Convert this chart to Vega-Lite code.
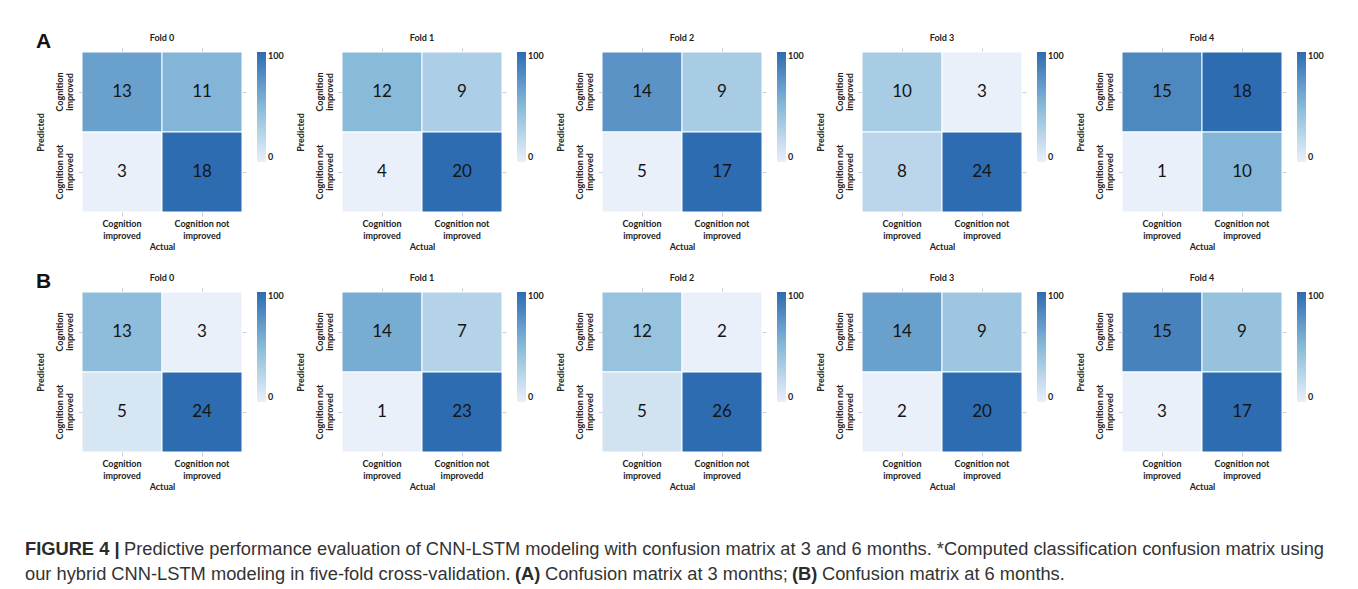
{
  "$schema": "https://vega.github.io/schema/vega-lite/v6.json",
  "background": "white",
  "padding": {"left": 25, "top": 30, "right": 5, "bottom": 5},
  "data": {
    "values": [
      {"set": "A", "fold": 0, "pred": "Cognition improved", "actual": "Cognition improved", "n": 13},
      {"set": "A", "fold": 0, "pred": "Cognition improved", "actual": "Cognition not improved", "n": 11},
      {"set": "A", "fold": 0, "pred": "Cognition not improved", "actual": "Cognition improved", "n": 3},
      {"set": "A", "fold": 0, "pred": "Cognition not improved", "actual": "Cognition not improved", "n": 18},
      {"set": "A", "fold": 1, "pred": "Cognition improved", "actual": "Cognition improved", "n": 12},
      {"set": "A", "fold": 1, "pred": "Cognition improved", "actual": "Cognition not improved", "n": 9},
      {"set": "A", "fold": 1, "pred": "Cognition not improved", "actual": "Cognition improved", "n": 4},
      {"set": "A", "fold": 1, "pred": "Cognition not improved", "actual": "Cognition not improved", "n": 20},
      {"set": "A", "fold": 2, "pred": "Cognition improved", "actual": "Cognition improved", "n": 14},
      {"set": "A", "fold": 2, "pred": "Cognition improved", "actual": "Cognition not improved", "n": 9},
      {"set": "A", "fold": 2, "pred": "Cognition not improved", "actual": "Cognition improved", "n": 5},
      {"set": "A", "fold": 2, "pred": "Cognition not improved", "actual": "Cognition not improved", "n": 17},
      {"set": "A", "fold": 3, "pred": "Cognition improved", "actual": "Cognition improved", "n": 10},
      {"set": "A", "fold": 3, "pred": "Cognition improved", "actual": "Cognition not improved", "n": 3},
      {"set": "A", "fold": 3, "pred": "Cognition not improved", "actual": "Cognition improved", "n": 8},
      {"set": "A", "fold": 3, "pred": "Cognition not improved", "actual": "Cognition not improved", "n": 24},
      {"set": "A", "fold": 4, "pred": "Cognition improved", "actual": "Cognition improved", "n": 15},
      {"set": "A", "fold": 4, "pred": "Cognition improved", "actual": "Cognition not improved", "n": 18},
      {"set": "A", "fold": 4, "pred": "Cognition not improved", "actual": "Cognition improved", "n": 1},
      {"set": "A", "fold": 4, "pred": "Cognition not improved", "actual": "Cognition not improved", "n": 10},
      {"set": "B", "fold": 0, "pred": "Cognition improved", "actual": "Cognition improved", "n": 13},
      {"set": "B", "fold": 0, "pred": "Cognition improved", "actual": "Cognition not improved", "n": 3},
      {"set": "B", "fold": 0, "pred": "Cognition not improved", "actual": "Cognition improved", "n": 5},
      {"set": "B", "fold": 0, "pred": "Cognition not improved", "actual": "Cognition not improved", "n": 24},
      {"set": "B", "fold": 1, "pred": "Cognition improved", "actual": "Cognition improved", "n": 14},
      {"set": "B", "fold": 1, "pred": "Cognition improved", "actual": "Cognition not improved", "n": 7},
      {"set": "B", "fold": 1, "pred": "Cognition not improved", "actual": "Cognition improved", "n": 1},
      {"set": "B", "fold": 1, "pred": "Cognition not improved", "actual": "Cognition not improved", "n": 23},
      {"set": "B", "fold": 2, "pred": "Cognition improved", "actual": "Cognition improved", "n": 12},
      {"set": "B", "fold": 2, "pred": "Cognition improved", "actual": "Cognition not improved", "n": 2},
      {"set": "B", "fold": 2, "pred": "Cognition not improved", "actual": "Cognition improved", "n": 5},
      {"set": "B", "fold": 2, "pred": "Cognition not improved", "actual": "Cognition not improved", "n": 26},
      {"set": "B", "fold": 3, "pred": "Cognition improved", "actual": "Cognition improved", "n": 14},
      {"set": "B", "fold": 3, "pred": "Cognition improved", "actual": "Cognition not improved", "n": 9},
      {"set": "B", "fold": 3, "pred": "Cognition not improved", "actual": "Cognition improved", "n": 2},
      {"set": "B", "fold": 3, "pred": "Cognition not improved", "actual": "Cognition not improved", "n": 20},
      {"set": "B", "fold": 4, "pred": "Cognition improved", "actual": "Cognition improved", "n": 15},
      {"set": "B", "fold": 4, "pred": "Cognition improved", "actual": "Cognition not improved", "n": 9},
      {"set": "B", "fold": 4, "pred": "Cognition not improved", "actual": "Cognition improved", "n": 3},
      {"set": "B", "fold": 4, "pred": "Cognition not improved", "actual": "Cognition not improved", "n": 17}
    ]
  },
  "vconcat": [
    {
      "vconcat": [
        {
          "title": {"text": "A", "anchor": "start", "font": "Liberation Sans", "fontSize": 21, "fontWeight": "bold", "color": "#111111", "offset": -18},
          "spacing": 12,
          "hconcat": [
            {
              "title": "Fold 0", "width": 160, "height": 160,
              "transform": [{"filter": "datum.set == 'A' && datum.fold == 0"}],
              "layer": [
                {"mark": {"type": "rect", "stroke": "white", "strokeWidth": 1},
                 "encoding": {
                   "x": {"field": "actual", "type": "nominal", "title": "Actual", "axis": {"labelExpr": "datum.label == 'Cognition improved' ? ['Cognition', 'improved'] : ['Cognition not', 'improved']"}},
                   "y": {"field": "pred", "type": "nominal", "title": "Predicted", "axis": {"labelExpr": "datum.label == 'Cognition improved' ? ['Cognition', 'improved'] : ['Cognition not', 'improved']"}},
                   "color": {"field": "n", "type": "quantitative", "scale": {"domain": [3, 10.5, 18], "range": ["#e9f0f9", "#88bada", "#2d6cb1"], "interpolate": "rgb"}, "legend": {"title": null, "values": [3, 18], "labelExpr": "datum.value < 10 ? '0' : '100'"}}
                 }},
                {"mark": {"type": "text", "fontSize": 17, "color": "#151515"},
                 "encoding": {
                   "x": {"field": "actual", "type": "nominal", "axis": {"orient": "top", "labels": false, "title": null}},
                   "y": {"field": "pred", "type": "nominal", "axis": {"orient": "right", "labels": false, "title": null}},
                   "text": {"field": "n", "type": "quantitative"}
                 }}
              ],
              "resolve": {"axis": {"x": "independent", "y": "independent"}}
            },
            {
              "title": "Fold 1", "width": 160, "height": 160,
              "transform": [{"filter": "datum.set == 'A' && datum.fold == 1"}],
              "layer": [
                {"mark": {"type": "rect", "stroke": "white", "strokeWidth": 1},
                 "encoding": {
                   "x": {"field": "actual", "type": "nominal", "title": "Actual", "axis": {"labelExpr": "datum.label == 'Cognition improved' ? ['Cognition', 'improved'] : ['Cognition not', 'improved']"}},
                   "y": {"field": "pred", "type": "nominal", "title": "Predicted", "axis": {"labelExpr": "datum.label == 'Cognition improved' ? ['Cognition', 'improved'] : ['Cognition not', 'improved']"}},
                   "color": {"field": "n", "type": "quantitative", "scale": {"domain": [4, 12, 20], "range": ["#e9f0f9", "#88bada", "#2d6cb1"], "interpolate": "rgb"}, "legend": {"title": null, "values": [4, 20], "labelExpr": "datum.value < 10 ? '0' : '100'"}}
                 }},
                {"mark": {"type": "text", "fontSize": 17, "color": "#151515"},
                 "encoding": {
                   "x": {"field": "actual", "type": "nominal", "axis": {"orient": "top", "labels": false, "title": null}},
                   "y": {"field": "pred", "type": "nominal", "axis": {"orient": "right", "labels": false, "title": null}},
                   "text": {"field": "n", "type": "quantitative"}
                 }}
              ],
              "resolve": {"axis": {"x": "independent", "y": "independent"}}
            },
            {
              "title": "Fold 2", "width": 160, "height": 160,
              "transform": [{"filter": "datum.set == 'A' && datum.fold == 2"}],
              "layer": [
                {"mark": {"type": "rect", "stroke": "white", "strokeWidth": 1},
                 "encoding": {
                   "x": {"field": "actual", "type": "nominal", "title": "Actual", "axis": {"labelExpr": "datum.label == 'Cognition improved' ? ['Cognition', 'improved'] : ['Cognition not', 'improved']"}},
                   "y": {"field": "pred", "type": "nominal", "title": "Predicted", "axis": {"labelExpr": "datum.label == 'Cognition improved' ? ['Cognition', 'improved'] : ['Cognition not', 'improved']"}},
                   "color": {"field": "n", "type": "quantitative", "scale": {"domain": [5, 11, 17], "range": ["#e9f0f9", "#88bada", "#2d6cb1"], "interpolate": "rgb"}, "legend": {"title": null, "values": [5, 17], "labelExpr": "datum.value < 10 ? '0' : '100'"}}
                 }},
                {"mark": {"type": "text", "fontSize": 17, "color": "#151515"},
                 "encoding": {
                   "x": {"field": "actual", "type": "nominal", "axis": {"orient": "top", "labels": false, "title": null}},
                   "y": {"field": "pred", "type": "nominal", "axis": {"orient": "right", "labels": false, "title": null}},
                   "text": {"field": "n", "type": "quantitative"}
                 }}
              ],
              "resolve": {"axis": {"x": "independent", "y": "independent"}}
            },
            {
              "title": "Fold 3", "width": 160, "height": 160,
              "transform": [{"filter": "datum.set == 'A' && datum.fold == 3"}],
              "layer": [
                {"mark": {"type": "rect", "stroke": "white", "strokeWidth": 1},
                 "encoding": {
                   "x": {"field": "actual", "type": "nominal", "title": "Actual", "axis": {"labelExpr": "datum.label == 'Cognition improved' ? ['Cognition', 'improved'] : ['Cognition not', 'improved']"}},
                   "y": {"field": "pred", "type": "nominal", "title": "Predicted", "axis": {"labelExpr": "datum.label == 'Cognition improved' ? ['Cognition', 'improved'] : ['Cognition not', 'improved']"}},
                   "color": {"field": "n", "type": "quantitative", "scale": {"domain": [3, 13.5, 24], "range": ["#e9f0f9", "#88bada", "#2d6cb1"], "interpolate": "rgb"}, "legend": {"title": null, "values": [3, 24], "labelExpr": "datum.value < 10 ? '0' : '100'"}}
                 }},
                {"mark": {"type": "text", "fontSize": 17, "color": "#151515"},
                 "encoding": {
                   "x": {"field": "actual", "type": "nominal", "axis": {"orient": "top", "labels": false, "title": null}},
                   "y": {"field": "pred", "type": "nominal", "axis": {"orient": "right", "labels": false, "title": null}},
                   "text": {"field": "n", "type": "quantitative"}
                 }}
              ],
              "resolve": {"axis": {"x": "independent", "y": "independent"}}
            },
            {
              "title": "Fold 4", "width": 160, "height": 160,
              "transform": [{"filter": "datum.set == 'A' && datum.fold == 4"}],
              "layer": [
                {"mark": {"type": "rect", "stroke": "white", "strokeWidth": 1},
                 "encoding": {
                   "x": {"field": "actual", "type": "nominal", "title": "Actual", "axis": {"labelExpr": "datum.label == 'Cognition improved' ? ['Cognition', 'improved'] : ['Cognition not', 'improved']"}},
                   "y": {"field": "pred", "type": "nominal", "title": "Predicted", "axis": {"labelExpr": "datum.label == 'Cognition improved' ? ['Cognition', 'improved'] : ['Cognition not', 'improved']"}},
                   "color": {"field": "n", "type": "quantitative", "scale": {"domain": [1, 9.5, 18], "range": ["#e9f0f9", "#88bada", "#2d6cb1"], "interpolate": "rgb"}, "legend": {"title": null, "values": [1, 18], "labelExpr": "datum.value < 10 ? '0' : '100'"}}
                 }},
                {"mark": {"type": "text", "fontSize": 17, "color": "#151515"},
                 "encoding": {
                   "x": {"field": "actual", "type": "nominal", "axis": {"orient": "top", "labels": false, "title": null}},
                   "y": {"field": "pred", "type": "nominal", "axis": {"orient": "right", "labels": false, "title": null}},
                   "text": {"field": "n", "type": "quantitative"}
                 }}
              ],
              "resolve": {"axis": {"x": "independent", "y": "independent"}}
            }
          ],
          "resolve": {"scale": {"color": "independent"}, "legend": {"color": "independent"}}
        },
        {
          "title": {"text": "B", "anchor": "start", "font": "Liberation Sans", "fontSize": 21, "fontWeight": "bold", "color": "#111111", "offset": -18},
          "spacing": 12,
          "hconcat": [
            {
              "title": "Fold 0", "width": 160, "height": 160,
              "transform": [{"filter": "datum.set == 'B' && datum.fold == 0"}],
              "layer": [
                {"mark": {"type": "rect", "stroke": "white", "strokeWidth": 1},
                 "encoding": {
                   "x": {"field": "actual", "type": "nominal", "title": "Actual", "axis": {"labelExpr": "datum.label == 'Cognition improved' ? ['Cognition', 'improved'] : ['Cognition not', 'improved']"}},
                   "y": {"field": "pred", "type": "nominal", "title": "Predicted", "axis": {"labelExpr": "datum.label == 'Cognition improved' ? ['Cognition', 'improved'] : ['Cognition not', 'improved']"}},
                   "color": {"field": "n", "type": "quantitative", "scale": {"domain": [3, 13.5, 24], "range": ["#e9f0f9", "#88bada", "#2d6cb1"], "interpolate": "rgb"}, "legend": {"title": null, "values": [3, 24], "labelExpr": "datum.value < 10 ? '0' : '100'"}}
                 }},
                {"mark": {"type": "text", "fontSize": 17, "color": "#151515"},
                 "encoding": {
                   "x": {"field": "actual", "type": "nominal", "axis": {"orient": "top", "labels": false, "title": null}},
                   "y": {"field": "pred", "type": "nominal", "axis": {"orient": "right", "labels": false, "title": null}},
                   "text": {"field": "n", "type": "quantitative"}
                 }}
              ],
              "resolve": {"axis": {"x": "independent", "y": "independent"}}
            },
            {
              "title": "Fold 1", "width": 160, "height": 160,
              "transform": [{"filter": "datum.set == 'B' && datum.fold == 1"}],
              "layer": [
                {"mark": {"type": "rect", "stroke": "white", "strokeWidth": 1},
                 "encoding": {
                   "x": {"field": "actual", "type": "nominal", "title": "Actual", "axis": {"labelExpr": "datum.label == 'Cognition improved' ? ['Cognition', 'improved'] : ['Cognition not', 'improvedd']"}},
                   "y": {"field": "pred", "type": "nominal", "title": "Predicted", "axis": {"labelExpr": "datum.label == 'Cognition improved' ? ['Cognition', 'improved'] : ['Cognition not', 'improved']"}},
                   "color": {"field": "n", "type": "quantitative", "scale": {"domain": [1, 12, 23], "range": ["#e9f0f9", "#88bada", "#2d6cb1"], "interpolate": "rgb"}, "legend": {"title": null, "values": [1, 23], "labelExpr": "datum.value < 10 ? '0' : '100'"}}
                 }},
                {"mark": {"type": "text", "fontSize": 17, "color": "#151515"},
                 "encoding": {
                   "x": {"field": "actual", "type": "nominal", "axis": {"orient": "top", "labels": false, "title": null}},
                   "y": {"field": "pred", "type": "nominal", "axis": {"orient": "right", "labels": false, "title": null}},
                   "text": {"field": "n", "type": "quantitative"}
                 }}
              ],
              "resolve": {"axis": {"x": "independent", "y": "independent"}}
            },
            {
              "title": "Fold 2", "width": 160, "height": 160,
              "transform": [{"filter": "datum.set == 'B' && datum.fold == 2"}],
              "layer": [
                {"mark": {"type": "rect", "stroke": "white", "strokeWidth": 1},
                 "encoding": {
                   "x": {"field": "actual", "type": "nominal", "title": "Actual", "axis": {"labelExpr": "datum.label == 'Cognition improved' ? ['Cognition', 'improved'] : ['Cognition not', 'improved']"}},
                   "y": {"field": "pred", "type": "nominal", "title": "Predicted", "axis": {"labelExpr": "datum.label == 'Cognition improved' ? ['Cognition', 'improved'] : ['Cognition not', 'improved']"}},
                   "color": {"field": "n", "type": "quantitative", "scale": {"domain": [2, 14, 26], "range": ["#e9f0f9", "#88bada", "#2d6cb1"], "interpolate": "rgb"}, "legend": {"title": null, "values": [2, 26], "labelExpr": "datum.value < 10 ? '0' : '100'"}}
                 }},
                {"mark": {"type": "text", "fontSize": 17, "color": "#151515"},
                 "encoding": {
                   "x": {"field": "actual", "type": "nominal", "axis": {"orient": "top", "labels": false, "title": null}},
                   "y": {"field": "pred", "type": "nominal", "axis": {"orient": "right", "labels": false, "title": null}},
                   "text": {"field": "n", "type": "quantitative"}
                 }}
              ],
              "resolve": {"axis": {"x": "independent", "y": "independent"}}
            },
            {
              "title": "Fold 3", "width": 160, "height": 160,
              "transform": [{"filter": "datum.set == 'B' && datum.fold == 3"}],
              "layer": [
                {"mark": {"type": "rect", "stroke": "white", "strokeWidth": 1},
                 "encoding": {
                   "x": {"field": "actual", "type": "nominal", "title": "Actual", "axis": {"labelExpr": "datum.label == 'Cognition improved' ? ['Cognition', 'improved'] : ['Cognition not', 'improved']"}},
                   "y": {"field": "pred", "type": "nominal", "title": "Predicted", "axis": {"labelExpr": "datum.label == 'Cognition improved' ? ['Cognition', 'improved'] : ['Cognition not', 'improved']"}},
                   "color": {"field": "n", "type": "quantitative", "scale": {"domain": [2, 11, 20], "range": ["#e9f0f9", "#88bada", "#2d6cb1"], "interpolate": "rgb"}, "legend": {"title": null, "values": [2, 20], "labelExpr": "datum.value < 10 ? '0' : '100'"}}
                 }},
                {"mark": {"type": "text", "fontSize": 17, "color": "#151515"},
                 "encoding": {
                   "x": {"field": "actual", "type": "nominal", "axis": {"orient": "top", "labels": false, "title": null}},
                   "y": {"field": "pred", "type": "nominal", "axis": {"orient": "right", "labels": false, "title": null}},
                   "text": {"field": "n", "type": "quantitative"}
                 }}
              ],
              "resolve": {"axis": {"x": "independent", "y": "independent"}}
            },
            {
              "title": "Fold 4", "width": 160, "height": 160,
              "transform": [{"filter": "datum.set == 'B' && datum.fold == 4"}],
              "layer": [
                {"mark": {"type": "rect", "stroke": "white", "strokeWidth": 1},
                 "encoding": {
                   "x": {"field": "actual", "type": "nominal", "title": "Actual", "axis": {"labelExpr": "datum.label == 'Cognition improved' ? ['Cognition', 'improved'] : ['Cognition not', 'improved']"}},
                   "y": {"field": "pred", "type": "nominal", "title": "Predicted", "axis": {"labelExpr": "datum.label == 'Cognition improved' ? ['Cognition', 'improved'] : ['Cognition not', 'improved']"}},
                   "color": {"field": "n", "type": "quantitative", "scale": {"domain": [3, 10, 17], "range": ["#e9f0f9", "#88bada", "#2d6cb1"], "interpolate": "rgb"}, "legend": {"title": null, "values": [3, 17], "labelExpr": "datum.value < 10 ? '0' : '100'"}}
                 }},
                {"mark": {"type": "text", "fontSize": 17, "color": "#151515"},
                 "encoding": {
                   "x": {"field": "actual", "type": "nominal", "axis": {"orient": "top", "labels": false, "title": null}},
                   "y": {"field": "pred", "type": "nominal", "axis": {"orient": "right", "labels": false, "title": null}},
                   "text": {"field": "n", "type": "quantitative"}
                 }}
              ],
              "resolve": {"axis": {"x": "independent", "y": "independent"}}
            }
          ],
          "resolve": {"scale": {"color": "independent"}, "legend": {"color": "independent"}}
        }
      ],
      "spacing": 19,
      "resolve": {"scale": {"color": "independent"}, "legend": {"color": "independent"}}
    },
    {
      "spacing": 4,
      "vconcat": [
        {
          "spacing": 4,
          "hconcat": [
            {"data": {"values": []}, "mark": "text", "encoding": {}, "width": 1, "height": 1,
             "title": {"text": "FIGURE 4 |", "anchor": "start", "dx": -57, "font": "Liberation Sans", "fontSize": 18.3, "fontWeight": "bold", "color": "#2b2b2b", "offset": 0}},
            {"data": {"values": []}, "mark": "text", "encoding": {}, "width": 1, "height": 1,
             "title": {"text": "Predictive performance evaluation of CNN-LSTM modeling with confusion matrix at 3 and 6 months. *Computed classification confusion matrix using", "anchor": "start", "font": "Liberation Sans", "fontSize": 18.3, "fontWeight": "normal", "color": "#333333", "offset": 0}}
          ]
        },
        {
          "spacing": 4,
          "hconcat": [
            {"data": {"values": []}, "mark": "text", "encoding": {}, "width": 1, "height": 1,
             "title": {"text": "our hybrid CNN-LSTM modeling in five-fold cross-validation.", "anchor": "start", "dx": -57, "font": "Liberation Sans", "fontSize": 18.3, "fontWeight": "normal", "color": "#333333", "offset": 0}},
            {"data": {"values": []}, "mark": "text", "encoding": {}, "width": 1, "height": 1,
             "title": {"text": "(A)", "anchor": "start", "font": "Liberation Sans", "fontSize": 18.3, "fontWeight": "bold", "color": "#2b2b2b", "offset": 0}},
            {"data": {"values": []}, "mark": "text", "encoding": {}, "width": 1, "height": 1,
             "title": {"text": "Confusion matrix at 3 months;", "anchor": "start", "font": "Liberation Sans", "fontSize": 18.3, "fontWeight": "normal", "color": "#333333", "offset": 0}},
            {"data": {"values": []}, "mark": "text", "encoding": {}, "width": 1, "height": 1,
             "title": {"text": "(B)", "anchor": "start", "font": "Liberation Sans", "fontSize": 18.3, "fontWeight": "bold", "color": "#2b2b2b", "offset": 0}},
            {"data": {"values": []}, "mark": "text", "encoding": {}, "width": 1, "height": 1,
             "title": {"text": "Confusion matrix at 6 months.", "anchor": "start", "font": "Liberation Sans", "fontSize": 18.3, "fontWeight": "normal", "color": "#333333", "offset": 0}}
          ]
        }
      ]
    }
  ],
  "spacing": 48,
  "resolve": {"scale": {"color": "independent"}, "legend": {"color": "independent"}},
  "config": {
    "view": {"stroke": null},
    "font": "Lato",
    "title": {"font": "Lato", "fontSize": 9, "fontWeight": "bold", "color": "#222222", "offset": 5},
    "text": {"font": "Lato"},
    "axis": {
      "domain": false, "grid": false,
      "tickColor": "#c5cfd8", "tickSize": 4, "tickWidth": 1,
      "labelFont": "Lato", "labelFontSize": 9, "labelFontWeight": "bold", "labelColor": "#222222", "labelLineHeight": 10,
      "titleFont": "Lato", "titleFontSize": 9, "titleFontWeight": "bold", "titleColor": "#222222"
    },
    "axisX": {"labelAngle": 0, "labelPadding": 3, "titlePadding": 2, "labelLineHeight": 12},
    "axisLeft": {"labelAngle": -90, "labelAlign": "center", "labelBaseline": "bottom", "labelPadding": 14, "titlePadding": 10},
    "legend": {
      "gradientLength": 110, "gradientThickness": 9, "gradientStrokeWidth": 0,
      "labelFont": "Lato", "labelFontSize": 9, "labelFontWeight": "bold", "labelColor": "#222222",
      "labelOffset": 4, "offset": 10, "padding": 0
    }
  }
}
